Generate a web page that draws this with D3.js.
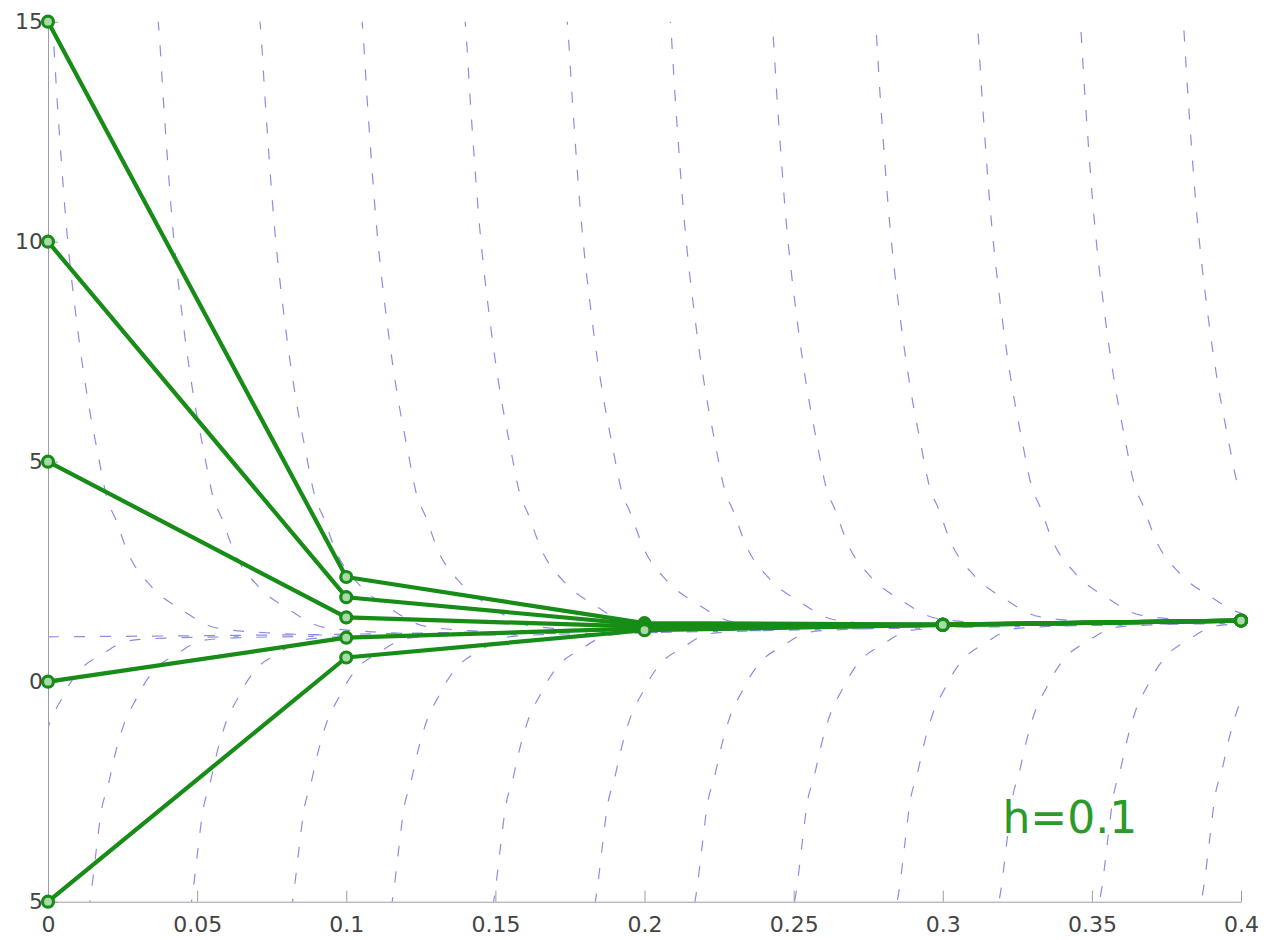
<!DOCTYPE html>
<html>
<head>
<meta charset="utf-8">
<script src="https://cdn.jsdelivr.net/npm/d3@7"></script>
<style>
    body { margin: 0; background: #fff; }
    svg { display: block; }
    .tick text { font-family: "DejaVu Sans", sans-serif; font-size: 22px; fill: #444; }
</style>
</head>
<body>
<svg id="chart" width="1264" height="940"></svg>
<script>
// euler steps, h = 0.1
var stepX = [0, 0.1, 0.2, 0.3, 0.4];
var euler15 = [15, 2.38, 1.33, 1.30, 1.39];
var euler10 = [10, 1.92, 1.29, 1.30, 1.39];
var euler5 = [5, 1.46, 1.25, 1.29, 1.39];
var euler0 = [0, 1.00, 1.21, 1.29, 1.39];
var eulerM5 = [-5, 0.55, 1.17, 1.29, 1.39];

// dashed solution curves: one shape, repeated at the start points seen
var upperDx = [-0.002, 0, 0.0020, 0.0047, 0.0087, 0.0121, 0.0154, 0.0184, 0.0215, 0.0255, 0.0335, 0.0436, 0.0553, 0.075, 0.1];
var upperY = [15.6, 15.0, 12.97, 10.48, 7.98, 6.39, 5.19, 4.19, 3.67, 2.93, 2.15, 1.63, 1.22, 1.10, 1.05];
var lowerDx = [-0.0025, 0, 0.0020, 0.0037, 0.0060, 0.0084, 0.0117, 0.0154, 0.0181, 0.0218, 0.0288, 0.0379, 0.05, 0.075];
var lowerY = [-5.8, -4.99, -3.88, -2.97, -2.38, -1.66, -0.91, -0.41, -0.07, 0.27, 0.61, 0.93, 0.99, 1.02];
var upperStart = [0.0013, 0.0369, 0.0710, 0.1052, 0.1397, 0.1739, 0.2084, 0.2425, 0.2771, 0.3112, 0.3457, 0.3802];
var lowerStart = [-0.011, 0.0141, 0.0482, 0.0821, 0.1156, 0.1497, 0.1839, 0.2174, 0.2509, 0.2854, 0.3196, 0.3534, 0.3876];
var centerX = [0, 0.1, 0.2, 0.3, 0.4];
var centerY = [1.02, 1.08, 1.2, 1.3, 1.4];

var xTicks = [0, 0.05, 0.1, 0.15, 0.2, 0.25, 0.3, 0.35, 0.4];
var xTickLabels = ['0', '0.05', '0.1', '0.15', '0.2', '0.25', '0.3', '0.35', '0.4'];
var yTicks = [15, 10, 5, 0, -5];
var yTickLabels = ['15', '10', '5', '0', '5'];

(function () {
    var green = '#178c17';
    var blue = '#8c8ce8';

    var svg = d3.select('#chart');

    var x = d3.scaleLinear().domain([0, 0.4]).range([48, 1241]);
    var y = d3.scaleLinear().domain([-5, 15]).range([901.7, 21.7]);
    var center = d3.scaleLinear().domain(centerX).range(centerY);

    svg.append('clipPath')
        .attr('id', 'plotClip')
        .append('rect')
        .attr('x', x(0))
        .attr('y', y(15))
        .attr('width', x(0.4) - x(0))
        .attr('height', y(-5) - y(15));

    var line = d3.line()
        .x(function (d) { return x(d[0]); })
        .y(function (d) { return y(d[1]); })
        .curve(d3.curveMonotoneX);

    function shapeAt(x0, dxs, ys) {
        var shift = center(Math.max(0, Math.min(0.4, x0))) - centerY[0];
        return dxs.map(function (dx, i) { return [x0 + dx, ys[i] + shift]; });
    }

    var curves = [];
    upperStart.forEach(function (x0) { curves.push(shapeAt(x0, upperDx, upperY)); });
    lowerStart.forEach(function (x0) { curves.push(shapeAt(x0, lowerDx, lowerY)); });
    curves.push(centerX.map(function (cx, i) { return [cx, centerY[i]]; }));

    svg.append('g')
        .attr('clip-path', 'url(#plotClip)')
        .selectAll('path')
        .data(curves)
        .enter()
        .append('path')
        .attr('d', line)
        .attr('fill', 'none')
        .attr('stroke', blue)
        .attr('stroke-width', 1.2)
        .attr('stroke-dasharray', '11,15');

    // axes
    var xAxis = svg.append('g')
        .attr('transform', 'translate(0,' + y(-5) + ')')
        .call(d3.axisBottom(x)
            .tickValues(xTicks)
            .tickFormat(function (d, i) { return xTickLabels[i]; })
            .tickSizeInner(-11)
            .tickSizeOuter(0)
            .tickPadding(15));

    var yAxis = svg.append('g')
        .attr('transform', 'translate(' + x(0) + ',0)')
        .call(d3.axisLeft(y)
            .tickValues(yTicks)
            .tickFormat(function (d, i) { return yTickLabels[i]; })
            .tickSizeInner(-10)
            .tickSizeOuter(0)
            .tickPadding(5));

    svg.selectAll('.domain, .tick line').attr('stroke', '#9c9cac');
    xAxis.attr('font-size', null).attr('font-family', null);
    yAxis.attr('font-size', null).attr('font-family', null);

    // euler polylines
    var series = [euler15, euler10, euler5, euler0, eulerM5];
    var straight = d3.line()
        .x(function (d) { return x(d[0]); })
        .y(function (d) { return y(d[1]); });

    var groups = svg.selectAll('.euler')
        .data(series.map(function (s) {
            return s.map(function (v, i) { return [stepX[i], v]; });
        }))
        .enter()
        .append('g')
        .classed('euler', true);

    groups.append('path')
        .attr('d', straight)
        .attr('fill', 'none')
        .attr('stroke', green)
        .attr('stroke-width', 4.2)
        .attr('stroke-linejoin', 'round');

    groups.selectAll('circle')
        .data(function (d) { return d; })
        .enter()
        .append('circle')
        .attr('cx', function (d) { return x(d[0]); })
        .attr('cy', function (d) { return y(d[1]); })
        .attr('r', 5.5)
        .attr('fill', '#a9d8a9')
        .attr('stroke', green)
        .attr('stroke-width', 3.2);

    svg.append('text')
        .attr('x', x(0.32))
        .attr('y', y(-3.44))
        .attr('font-family', '"DejaVu Sans", sans-serif')
        .attr('font-size', 44)
        .attr('fill', '#2a9a2a')
        .text('h=0.1');
}());
</script>
</body>
</html>
